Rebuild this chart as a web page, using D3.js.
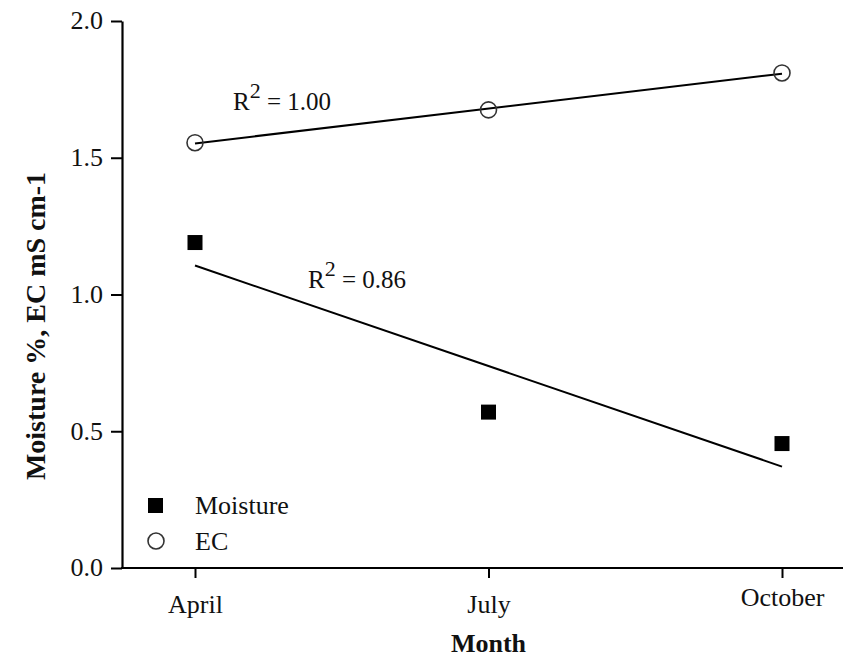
<!DOCTYPE html>
<html>
<head>
<meta charset="utf-8">
<script src="https://cdn.jsdelivr.net/npm/d3@7"></script>
<style>
  body { margin: 0; background: #fff; }
  svg { display: block; }
  svg text { font-family: "Liberation Serif", "Times New Roman", serif; fill: #111; }
</style>
</head>
<body>
<div id="chart"></div>
<script>
// data
var months = ["April", "July", "October"];
var moisture = [1.19, 0.57, 0.455];
var ec = [1.555, 1.675, 1.81];
var yTicks = [0.0, 0.5, 1.0, 1.5, 2.0];
var r2Labels = ["1.00", "0.86"];

var svgWidth = 845, svgHeight = 657;
var margin = { top: 21, bottom: 89, left: 122, right: 2 };
var fs = 26;

var svg = d3.select("#chart").append("svg")
    .attr("width", svgWidth)
    .attr("height", svgHeight);

var xScale = d3.scalePoint()
    .domain(months)
    .range([195, 782]);

var yScale = d3.scaleLinear()
    .domain([0, 2])
    .range([svgHeight - margin.bottom, margin.top]);

// y axis
var yAxis = d3.axisLeft(yScale)
    .tickValues(yTicks)
    .tickFormat(d3.format(".1f"))
    .tickSize(11)
    .tickSizeOuter(0)
    .tickPadding(8);

var gy = svg.append("g")
    .attr("transform", `translate(${margin.left},0)`)
    .call(yAxis);
gy.attr("font-family", null);
gy.select(".domain").attr("stroke-width", 2.2);
gy.selectAll(".tick line").attr("stroke-width", 2);
gy.selectAll("text").attr("font-size", fs).attr("dy", "0.3em");

// x axis
var xAxis = d3.axisBottom(xScale).tickSize(10).tickSizeOuter(0).tickPadding(9);
var gx = svg.append("g")
    .attr("transform", `translate(0,${yScale(0)})`)
    .call(xAxis);
gx.attr("font-family", null);
gx.select(".domain").remove();
gx.append("line")
    .attr("x1", margin.left - 1).attr("x2", svgWidth - margin.right)
    .attr("stroke", "#000").attr("stroke-width", 2.2);
gx.selectAll(".tick line").attr("stroke-width", 2);
gx.selectAll(".tick text")
    .attr("font-size", fs)
    .attr("dy", null)
    .attr("y", d => d === "October" ? 38 : 45);

// axis titles
svg.append("text")
    .attr("transform", "translate(45,326) rotate(-90)")
    .attr("text-anchor", "middle")
    .attr("font-size", 28)
    .attr("font-weight", "bold")
    .text("Moisture %, EC mS cm-1");

svg.append("text")
    .attr("x", xScale("July"))
    .attr("y", 652)
    .attr("text-anchor", "middle")
    .attr("font-size", 26)
    .attr("font-weight", "bold")
    .text("Month");

// least squares fit over month index
function fit(vals) {
    var xs = vals.map((d, i) => i);
    var mx = d3.mean(xs), my = d3.mean(vals);
    var sxy = d3.sum(xs, (x, i) => (x - mx) * (vals[i] - my));
    var sxx = d3.sum(xs, x => (x - mx) * (x - mx));
    var b = sxy / sxx;
    var a = my - b * mx;
    return [0, xs.length - 1].map(i => [months[i], a + b * i]);
}

var line = d3.line()
    .x(d => xScale(d[0]))
    .y(d => yScale(d[1]));

[ec, moisture].forEach(function(vals) {
    svg.append("path")
        .attr("d", line(fit(vals)))
        .attr("fill", "none")
        .attr("stroke", "#000")
        .attr("stroke-width", 2);
});

// markers
svg.selectAll("rect.moist")
    .data(moisture)
    .enter()
    .append("rect")
    .attr("class", "moist")
    .attr("x", (d, i) => xScale(months[i]) - 7.5)
    .attr("y", d => yScale(d) - 7.5)
    .attr("width", 15)
    .attr("height", 15)
    .attr("fill", "#000");

svg.selectAll("circle.ec")
    .data(ec)
    .enter()
    .append("circle")
    .attr("class", "ec")
    .attr("cx", (d, i) => xScale(months[i]))
    .attr("cy", d => yScale(d))
    .attr("r", 8)
    .attr("fill", "none")
    .attr("stroke", "#333")
    .attr("stroke-width", 1.6);

// R squared labels
function r2(x, y, val) {
    var t = svg.append("text")
        .attr("x", x).attr("y", y)
        .attr("font-size", 25);
    t.append("tspan").text("R");
    t.append("tspan").attr("dy", -12).attr("font-size", 22).text("2");
    t.append("tspan").attr("dy", 12).text(" = " + val);
}
r2(233, 110, r2Labels[0]);
r2(308, 288, r2Labels[1]);

// legend
var legend = svg.append("g");
legend.append("rect")
    .attr("x", 148).attr("y", 498)
    .attr("width", 15).attr("height", 15)
    .attr("fill", "#000");
legend.append("circle")
    .attr("cx", 156).attr("cy", 541)
    .attr("r", 8)
    .attr("fill", "none").attr("stroke", "#333").attr("stroke-width", 1.6);
legend.append("text")
    .attr("x", 195).attr("y", 514)
    .attr("font-size", fs).text("Moisture");
legend.append("text")
    .attr("x", 195).attr("y", 550)
    .attr("font-size", fs).text("EC");
</script>
</body>
</html>
